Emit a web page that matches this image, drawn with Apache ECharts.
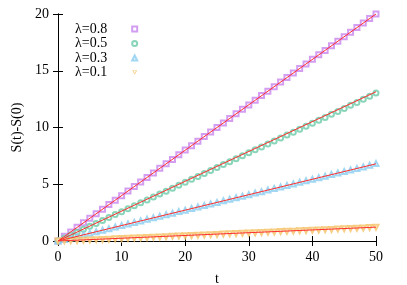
<!DOCTYPE html>
<html><head><meta charset="utf-8">
<script src="https://cdn.jsdelivr.net/npm/echarts@6/dist/echarts.min.js"></script>
<style>html,body{margin:0;padding:0;background:#fff}#c{width:407px;height:285px}</style>
</head><body><div id="c"></div>
<script>
var t = [0,1,2,3,4,5,6,7,8,9,10,11,12,13,14,15,16,17,18,19,20,21,22,23,24,25,26,27,28,29,30,31,32,33,34,35,36,37,38,39,40,41,42,43,44,45,46,47,48,49,50];
var s08 = [0,0.41,0.79,1.21,1.6,2.01,2.39,2.8,3.21,3.6,3.99,4.4,4.81,5.2,5.59,6.0,6.41,6.8,7.19,7.6,8.01,8.4,8.79,9.2,9.61,10.0,10.39,10.8,11.21,11.6,11.99,12.4,12.81,13.2,13.59,14.0,14.41,14.8,15.19,15.6,16.01,16.4,16.79,17.2,17.61,18.0,18.39,18.8,19.21,19.6,20.0];
var s05 = [0,0.27,0.52,0.78,1.04,1.30,1.55,1.81,2.07,2.33,2.58,2.84,3.10,3.36,3.62,3.88,4.13,4.39,4.65,4.91,5.17,5.43,5.69,5.95,6.21,6.47,6.73,6.99,7.25,7.51,7.77,8.03,8.29,8.55,8.81,9.07,9.33,9.59,9.85,10.11,10.37,10.63,10.89,11.16,11.42,11.68,11.95,12.21,12.48,12.75,13.05];
var s03 = [0,0.14,0.27,0.41,0.55,0.68,0.82,0.95,1.09,1.23,1.36,1.50,1.63,1.77,1.91,2.04,2.18,2.31,2.45,2.59,2.72,2.86,2.99,3.13,3.27,3.40,3.54,3.67,3.81,3.95,4.08,4.22,4.35,4.49,4.63,4.76,4.90,5.03,5.17,5.31,5.44,5.58,5.71,5.85,5.99,6.12,6.26,6.39,6.53,6.67,6.82];
var s01 = [0,0.01,0.03,0.05,0.07,0.09,0.12,0.14,0.16,0.19,0.21,0.24,0.26,0.29,0.31,0.34,0.36,0.38,0.41,0.43,0.46,0.48,0.51,0.53,0.56,0.58,0.61,0.63,0.65,0.68,0.70,0.73,0.75,0.78,0.80,0.83,0.85,0.87,0.90,0.92,0.95,0.97,1.00,1.02,1.05,1.07,1.10,1.12,1.15,1.18,1.21];
var fitT = [0, 50];
var fit08 = [0, 20.0];
var fit05 = [0, 13.15];
var fit03 = [0, 6.8];
var fit01 = [0, 1.22];
var names = ['λ=0.8','λ=0.5','λ=0.3','λ=0.1'];
var xTicks = [0,10,20,30,40,50];
var yTicks = [0,5,10,15,20];

function pairs(xs, ys){ return xs.map(function(x,i){return [x, ys[i]];}); }
var FONT = "'Liberation Serif', 'Times New Roman', serif";
var colors = ['#c884ee','#6ccaa8','#8acdf0','#f5c266'];
var symbols = ['emptyRect','emptyCircle','emptyTriangle','emptyTriangle'];
var legendIcons = ['emptyRect','emptyCircle','emptyTriangle','path://M0,0L10,0L5,9ZM2.5,1.2L5,5.8L7.5,1.2Z'];
var rot = [0,0,0,180];
var sdata = [s08,s05,s03,s01];
var fdata = [fit08,fit05,fit03,fit01];
var series = [];
sdata.forEach(function(d,i){
  series.push({name:names[i], type:'scatter', data:pairs(t,d), symbol:symbols[i], symbolRotate:rot[i], symbolSize:5,
    itemStyle:{color:colors[i], borderWidth:1}, z:2, silent:true});
});
fdata.forEach(function(d,i){
  series.push({name:'fit'+i, type:'line', data:pairs(fitT,d), showSymbol:false, symbol:'none',
    lineStyle:{color:'#ff3030', width:1}, z:5, silent:true});
});
var legendData = names.map(function(n,i){ return {name:n, icon:legendIcons[i]}; });
var axisCommon = {axisLine:{show:true,lineStyle:{color:'#000',width:1}}, axisTick:{show:true,inside:true,length:5,lineStyle:{color:'#000'}}, splitLine:{show:false}};
var chart = echarts.init(document.getElementById('c'), null, {renderer:'canvas'});
chart.setOption({
  animation:false,
  backgroundColor:'#fff',
  grid:{left:58, right:31, top:14, bottom:44, containLabel:false, outerBoundsMode:'none'},
  legend:{data:legendData, orient:'vertical', left:75, top:22, align:'right', itemWidth:5, itemHeight:5, itemGap:0.5,
    padding:0, symbolRotate:0,
    textStyle:{fontFamily:FONT, fontSize:14, color:'#000', lineHeight:13, padding:[0,20,0,0]}},
  xAxis:[
    Object.assign({type:'value', min:xTicks[0], max:xTicks[xTicks.length-1], interval:10, name:'t', nameLocation:'middle', nameGap:31,
      nameTextStyle:{fontFamily:FONT, fontSize:14, color:'#000'},
      axisLabel:{fontFamily:FONT, fontSize:14, color:'#000', margin:9}}, axisCommon),
    Object.assign({type:'value', position:'top', min:0, max:50, interval:10, axisLabel:{show:false}}, axisCommon)
  ],
  yAxis:[
    Object.assign({type:'value', min:yTicks[0], max:yTicks[yTicks.length-1], interval:5, name:'S(t)-S(0)', nameLocation:'middle', nameGap:24,
      nameTextStyle:{fontFamily:FONT, fontSize:14, color:'#000'},
      axisLabel:{fontFamily:FONT, fontSize:14, color:'#000', margin:9}}, axisCommon),
    Object.assign({type:'value', position:'right', min:0, max:20, interval:5, axisLabel:{show:false}}, axisCommon)
  ],
  series:series
});
</script></body></html>
